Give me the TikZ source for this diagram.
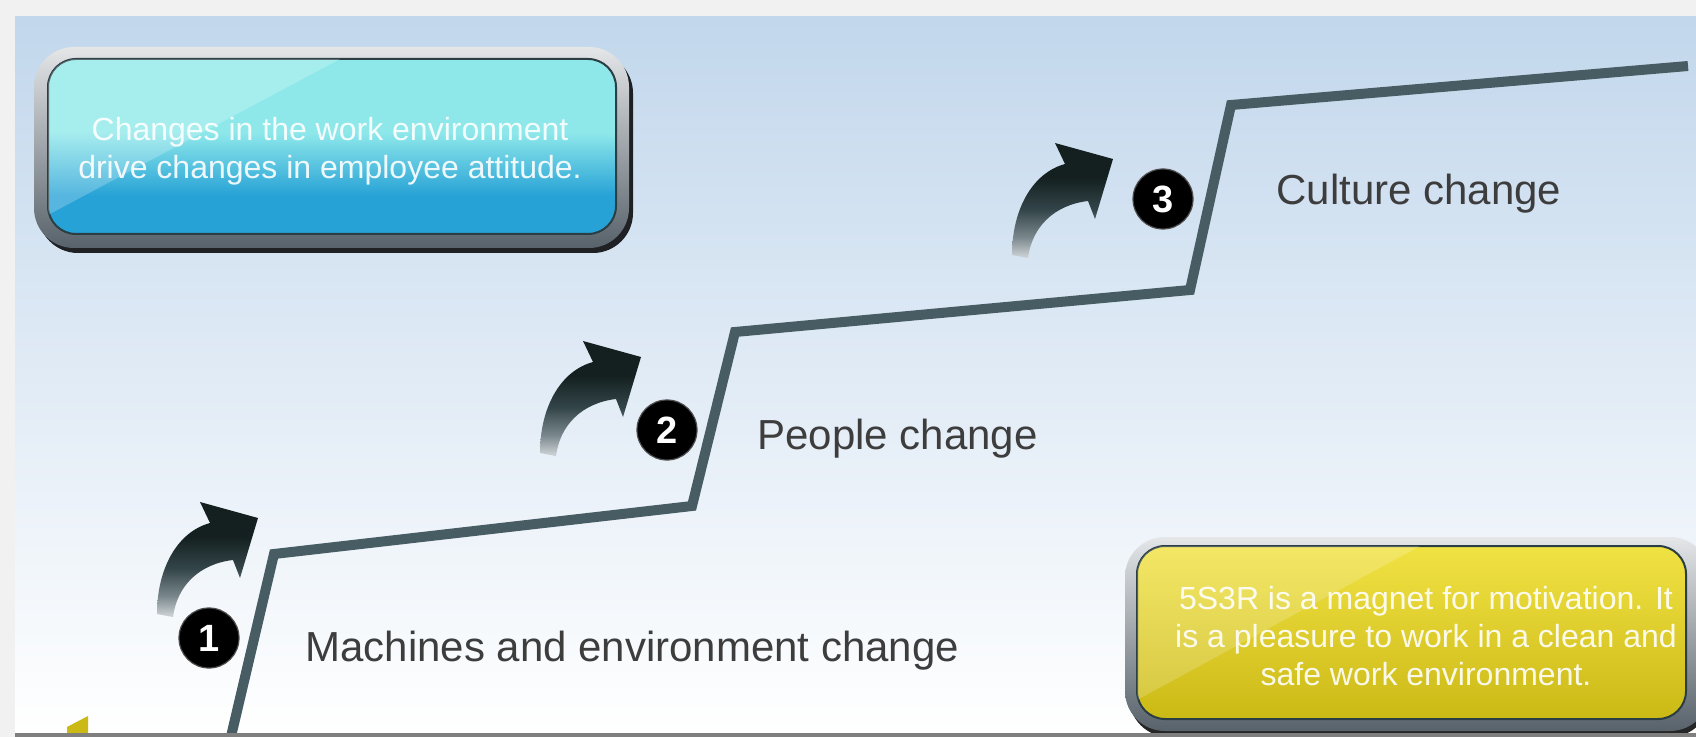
\documentclass[tikz,border=0pt]{standalone}
\usepackage{fontspec}
\setmainfont{Liberation Sans}
\usetikzlibrary{positioning}

\definecolor{bandgray}{HTML}{F1F1F1}
\definecolor{skytop}{HTML}{C2D7EC}
\definecolor{skymid}{HTML}{DDE8F3}
\definecolor{stairline}{HTML}{485C63}
\definecolor{labelgray}{HTML}{3D3D3D}
\definecolor{cyanhi}{HTML}{8EE8EA}
\definecolor{cyanlo}{HTML}{27A2D6}
\definecolor{yellowhi}{HTML}{F1E244}
\definecolor{yellowlo}{HTML}{CBB915}
\definecolor{framehi}{HTML}{E4E6E8}
\definecolor{framelo}{HTML}{58626A}
\definecolor{boxedge}{HTML}{2A3E44}
\definecolor{arrowdark}{HTML}{14201F}
\definecolor{arrowmid}{HTML}{34454A}
\definecolor{arrowgray}{HTML}{7A888D}
\definecolor{arrowlight}{HTML}{C8CED1}
\definecolor{footgray}{HTML}{7F7F7F}

\pgfdeclareverticalshading{cyanglass}{100bp}{color(0bp)=(cyanlo); color(36bp)=(cyanlo); color(54bp)=(cyanhi); color(100bp)=(cyanhi)}
\pgfdeclareverticalshading{arrowfade}{100bp}{color(0bp)=(arrowlight); color(26bp)=(arrowlight); color(34bp)=(arrowgray); color(46bp)=(arrowmid); color(60bp)=(arrowdark); color(100bp)=(arrowdark)}

\tikzset{
  stepline/.style={draw=stairline, line width=5pt, line join=miter},
  numdisc/.style={circle, fill=black, draw=black!70, line width=0.6pt, minimum size=30pt, inner sep=0pt, text=white, font=\fontsize{19}{19}\selectfont\bfseries},
  steplabel/.style={anchor=base west, text=labelgray, font=\fontsize{21}{25}\selectfont, inner sep=0pt},
  boxtext/.style={align=center, text=white, text opacity=0.9, font=\fontsize{16}{19}\selectfont, inner sep=0pt},
  boxframe/.style={rounded corners=20pt, top color=framehi, bottom color=framelo},
  boxshadow/.style={rounded corners=20pt, fill=black, opacity=0.85},
}

\begin{document}
\begin{tikzpicture}[x=0.5pt, y=-0.5pt]

	\useasboundingbox (0,0) rectangle (1696,737);
	\clip (0,0) rectangle (1696,737);

	% background
	\fill[bandgray] (0,0) rectangle (1696,737);
	\shade[top color=skytop, middle color=skymid, bottom color=white] (15,17) rectangle (1696,733);

	% staircase
	\coordinate (s0) at (229,745);
	\coordinate (s1) at (274,554);
	\coordinate (s2) at (692,506);
	\coordinate (s3) at (735,332);
	\coordinate (s4) at (1190,290);
	\coordinate (s5) at (1231,105);
	\coordinate (s6) at (1688,66);
	\draw[stepline] (s0) -- (s1) -- (s2) -- (s3) -- (s4) -- (s5) -- (s6);

	% curved arrows
	\foreach \ax/\ay in {157/614, 540/453, 1012/255} {
		\shade[shading=arrowfade, shift={(\ax,\ay)}]
			(0,0) .. controls (0,-45) and (20,-82) .. (53,-91) -- (43,-112) -- (101,-96) -- (83,-36) -- (76,-54)
			.. controls (42,-50) and (20,-28) .. (16,3) -- cycle;
	}

	% step numbers
	\node[numdisc] (n1) at (209,638) {1};
	\node[numdisc] (n2) at (667,430) {2};
	\node[numdisc] (n3) at (1163,199) {3};

	% step labels
	\node[steplabel] (lab1) at (305,661) {Machines and environment change};
	\node[steplabel] (lab2) at (757,449) {People change};
	\node[steplabel] (lab3) at (1276,205) {Culture change};

	% cyan box
	\fill[boxshadow] (38,53) rectangle (633,253);
	\shade[boxframe] (34,47) rectangle (629,248);
	\shadedraw[shading=cyanglass, draw=boxedge, line width=1pt, rounded corners=14pt] (48,59) rectangle (616,234);
	\begin{scope}
		\clip[rounded corners=14pt] (48,59) rectangle (616,234);
		\fill[white, opacity=0.22] (48,59) -- (340,59) -- (48,215) -- cycle;
	\end{scope}
	\node[boxtext] (envtext) at (330,151) {Changes in the work environment\\drive changes in employee attitude.};

	% yellow box
	\fill[boxshadow] (1129,543) rectangle (1710,737);
	\shade[boxframe] (1125,537) rectangle (1710,731);
	\shadedraw[top color=yellowhi, bottom color=yellowlo, draw=boxedge, line width=1pt, rounded corners=14pt] (1137,546) rectangle (1686,719);
	\begin{scope}
		\clip[rounded corners=14pt] (1137,546) rectangle (1686,719);
		\fill[white, opacity=0.18] (1137,546) -- (1420,546) -- (1137,700) -- cycle;
	\end{scope}
	\node[boxtext] (magtext) at (1426,636) {5S3R is a magnet for motivation. It\\is a pleasure to work in a clean and\\safe work environment.};

	% bottom edge
	\fill[yellowlo] (67,737) -- (67,727) -- (88,716) -- (88,737) -- cycle;
	\fill[footgray] (15,733) rectangle (1696,737);

\end{tikzpicture}
\end{document}
